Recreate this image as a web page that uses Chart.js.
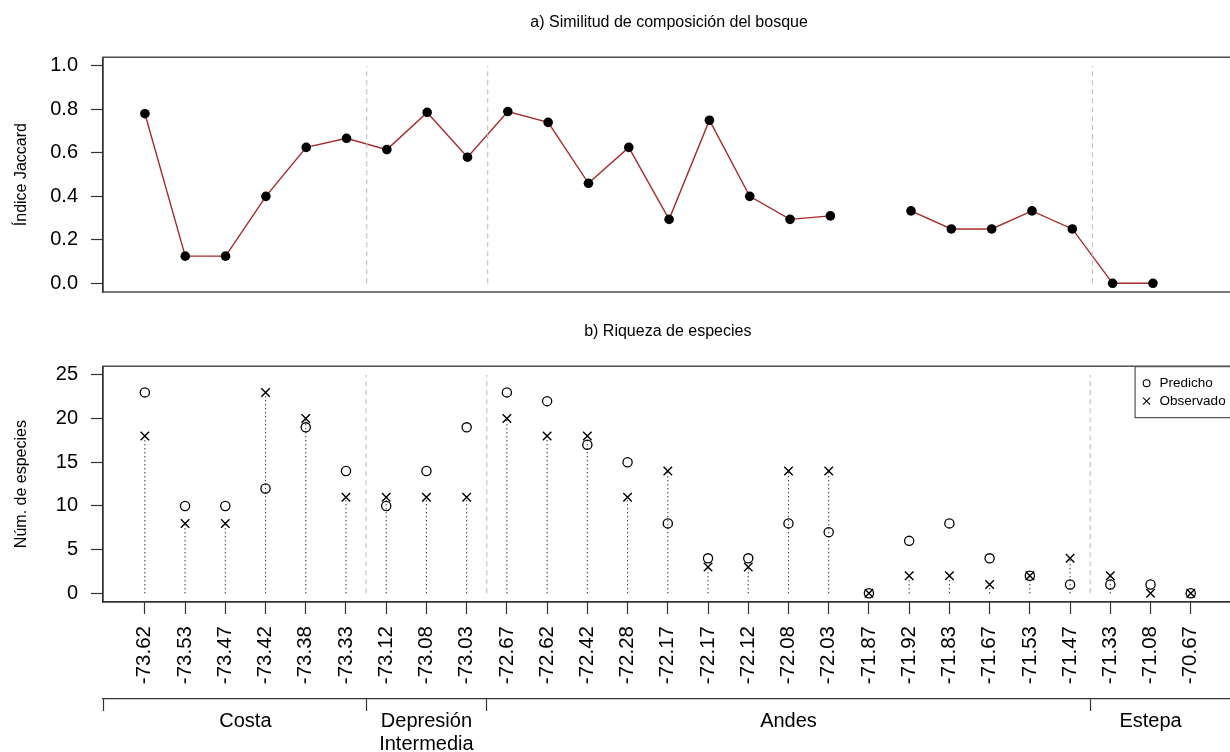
<!DOCTYPE html>
<html>
<head>
<meta charset="utf-8">
<script src="https://cdn.jsdelivr.net/npm/chart.js@4/dist/chart.umd.min.js"></script>
<style>
html,body{margin:0;padding:0;background:#fff;overflow:hidden;width:1230px;height:752px;}
#wrapA{position:absolute;left:0;top:0;width:1240px;height:300px;}
#wrapB{position:absolute;left:0;top:300px;width:1240px;height:452px;}
canvas{display:block;}
</style>
</head>
<body>
<div id="wrapA"><canvas id="cA" width="1240" height="300"></canvas></div>
<div id="wrapB"><canvas id="cB" width="1240" height="452"></canvas></div>
<script>
// ---------------- data ----------------
const longitudes = ['-73.62','-73.53','-73.47','-73.42','-73.38','-73.33','-73.12','-73.08','-73.03',
  '-72.67','-72.62','-72.42','-72.28','-72.17','-72.17','-72.12','-72.08','-72.03','-71.87',
  '-71.92','-71.83','-71.67','-71.53','-71.47','-71.33','-71.08','-70.67'];
const jaccard = [0.78,0.125,0.125,0.40,0.625,0.667,0.615,0.786,0.58,
  0.79,0.74,0.46,0.625,0.294,0.75,0.40,0.294,0.31,null,
  0.333,0.25,0.25,0.333,0.25,0.0,0.0,null];
const predicted = [23,10,10,12,19,14,10,14,19,23,22,17,15,8,4,4,8,7,0,6,8,4,2,1,1,1,0];
const observed  = [18,8,8,23,20,11,11,11,11,20,18,18,11,14,3,3,14,14,0,2,2,1,2,4,2,0,0];
const regionNames = ['Costa', ['Depresión','Intermedia'], 'Andes', 'Estepa'];
const regionSizes = [6, 3, 15, 3];
const jaccardTicks = [0, 0.2, 0.4, 0.6, 0.8, 1.0];
const speciesTicks = [0, 5, 10, 15, 20, 25];
const titleA = 'a) Similitud de composición del bosque';
const titleB = 'b) Riqueza de especies';
const yTitleA = 'Índice Jaccard';
const yTitleB = 'Núm. de especies';
const legendLabels = ['Predicho', 'Observado'];

// ---------------- helpers ----------------
Chart.defaults.font.family = '"Liberation Sans", Arial, Helvetica, sans-serif';
Chart.defaults.color = '#000';
const N = longitudes.length;
const ext = (N - 1) * 0.04;
const xMin = 1 - ext, xMax = N + ext;
const AX = '#333';

// region boundaries and centres (from region sizes)
const bounds = [];
const centres = [];
{
  let start = 1;
  regionSizes.forEach((n, j) => {
    centres.push(start + (n - 1) / 2);
    if (j < regionSizes.length - 1) bounds.push(start + n - 0.5);
    start += n;
  });
}

function dividerSets(top) {
  return bounds.map(b => ({
    label: 'div', data: [{x: b, y: 0}, {x: b, y: top}],
    borderColor: '#c4c4c4', borderWidth: 1.2, borderDash: [5, 4],
    pointRadius: 0, fill: false
  }));
}

const boxPlugin = {
  id: 'box',
  afterDatasetsDraw(chart) {
    const {ctx, chartArea: a} = chart;
    ctx.save();
    ctx.strokeStyle = AX; ctx.lineWidth = 1.3;
    ctx.strokeRect(a.left, a.top, a.right - a.left, a.bottom - a.top);
    ctx.restore();
  }
};

const legendPlugin = {
  id: 'legendBox',
  afterDraw(chart) {
    const {ctx, chartArea: a} = chart;
    const w = 98, h = 51;
    const x0 = a.right - w, y0 = a.top;
    ctx.save();
    ctx.fillStyle = '#fff';
    ctx.fillRect(x0, y0, w, h);
    ctx.strokeStyle = AX; ctx.lineWidth = 1;
    ctx.strokeRect(x0 + 0.5, y0 + 0.5, w, h);
    const styles = {Predicho: ['circle', 3.4], Observado: ['crossRot', 5]};
    legendLabels.forEach((t, i) => {
      const y = y0 + 17 + i * 18;
      ctx.strokeStyle = '#000'; ctx.fillStyle = 'rgba(0,0,0,0)'; ctx.lineWidth = 1.1;
      Chart.helpers.drawPoint(ctx, {pointStyle: styles[t][0], radius: styles[t][1], borderWidth: 1.1, rotation: 0}, x0 + 12, y);
      ctx.fillStyle = '#000';
      ctx.font = '13.5px "Liberation Sans", Arial, sans-serif';
      ctx.textBaseline = 'middle'; ctx.textAlign = 'left';
      ctx.fillText(t, x0 + 25, y);
    });
    ctx.restore();
  }
};

function yAxis(min, max, tickVals, fmt, title) {
  return {
    type: 'linear', min: min, max: max, position: 'left',
    afterBuildTicks: s => { s.ticks = tickVals.map(v => ({value: v})); },
    afterFit: s => { s.width = 103; s.paddingTop = 0; s.paddingBottom = 0; },
    ticks: {callback: fmt, font: {size: 20}, color: '#000', padding: 13},
    grid: {drawOnChartArea: false, drawTicks: true, tickLength: 12, tickColor: AX, tickWidth: 1.2},
    border: {display: true, color: AX, width: 1.3},
    title: {display: true, text: title, font: {size: 16}, color: '#000', padding: {top: 12, bottom: 0}}
  };
}

// ---------------- chart a ----------------
new Chart(document.getElementById('cA'), {
  type: 'line',
  data: {
    datasets: [
      ...dividerSets(jaccardTicks[jaccardTicks.length - 1]),
      {
        label: 'Jaccard',
        data: jaccard.map((v, i) => ({x: i + 1, y: v})),
        borderColor: '#a52a2a', borderWidth: 1.4, tension: 0, spanGaps: false,
        pointRadius: 4.8, pointBackgroundColor: '#000', pointBorderColor: '#000', pointBorderWidth: 0
      }
    ]
  },
  options: {
    responsive: false, animation: false, devicePixelRatio: 1,
    layout: {padding: {left: 0, right: 4, top: 0, bottom: 8}},
    plugins: {
      legend: {display: false}, tooltip: {enabled: false},
      title: {display: true, text: titleA, fullSize: false, color: '#000',
              font: {size: 16, weight: 'normal'}, padding: {top: 13, bottom: 25}}
    },
    scales: {
      x: {type: 'linear', min: xMin, max: xMax, display: false},
      y: yAxis(-0.04, 1.04, jaccardTicks, v => v.toFixed(1), yTitleA)
    }
  },
  plugins: [boxPlugin]
});

// ---------------- chart b ----------------
const stemData = [];
observed.forEach((v, i) => {
  stemData.push({x: i + 1, y: 0}, {x: i + 1, y: v}, {x: i + 1, y: null});
});
const bracketTicks = [xMin, ...bounds, ...centres, xMax].sort((a, b) => a - b);
const bracketLabel = v => {
  const j = centres.indexOf(v);
  return j >= 0 ? regionNames[j] : '';
};

new Chart(document.getElementById('cB'), {
  type: 'line',
  data: {
    datasets: [
      ...dividerSets(speciesTicks[speciesTicks.length - 1]),
      {
        label: 'stems', data: stemData, borderColor: '#000', borderWidth: 1.1,
        borderDash: [1, 3], pointRadius: 0, spanGaps: false
      },
      {
        label: legendLabels[1], data: observed.map((v, i) => ({x: i + 1, y: v})), showLine: false,
        pointStyle: 'crossRot', pointRadius: 6, pointBorderColor: '#000', pointBorderWidth: 1.4,
        pointBackgroundColor: 'rgba(0,0,0,0)'
      },
      {
        label: legendLabels[0], data: predicted.map((v, i) => ({x: i + 1, y: v})), showLine: false,
        pointStyle: 'circle', pointRadius: 4.6, pointBorderColor: '#000', pointBorderWidth: 1.3,
        pointBackgroundColor: 'rgba(0,0,0,0)'
      }
    ]
  },
  options: {
    responsive: false, animation: false, devicePixelRatio: 1,
    layout: {padding: {left: 0, right: 4, top: 0, bottom: 0}},
    plugins: {
      legend: {display: false}, tooltip: {enabled: false},
      title: {display: true, text: titleB, fullSize: false, color: '#000',
              font: {size: 16, weight: 'normal'}, padding: {top: 22, bottom: 25}}
    },
    scales: {
      x: {
        type: 'linear', min: xMin, max: xMax, position: 'bottom', weight: 0,
        afterBuildTicks: s => { s.ticks = longitudes.map((l, i) => ({value: i + 1})); },
        afterFit: s => { s.height = 97; },
        ticks: {callback: (v, i) => longitudes[i], autoSkip: false, minRotation: 90, maxRotation: 90,
                font: {size: 20.5}, color: '#000', padding: 12},
        grid: {drawOnChartArea: false, drawTicks: true, tickLength: 12, tickColor: AX, tickWidth: 1.2},
        border: {display: true, color: AX, width: 1.3}
      },
      x2: {
        type: 'linear', min: xMin, max: xMax, position: 'bottom', weight: 1,
        afterBuildTicks: s => { s.ticks = bracketTicks.map(v => ({value: v})); },
        afterFit: s => { s.height = 53; },
        ticks: {callback: v => bracketLabel(v), autoSkip: false, minRotation: 0, maxRotation: 0,
                font: {size: 20, lineHeight: 1.15}, color: '#000', padding: -1},
        grid: {drawOnChartArea: false, drawTicks: true, tickLength: 12, tickWidth: 1.2,
               tickColor: c => (c.tick && centres.indexOf(c.tick.value) < 0) ? AX : 'rgba(0,0,0,0)'},
        border: {display: true, color: AX, width: 1.2}
      },
      y: yAxis(-1, 26, speciesTicks, v => String(v), yTitleB)
    }
  },
  plugins: [boxPlugin, legendPlugin]
});
</script>
</body>
</html>
